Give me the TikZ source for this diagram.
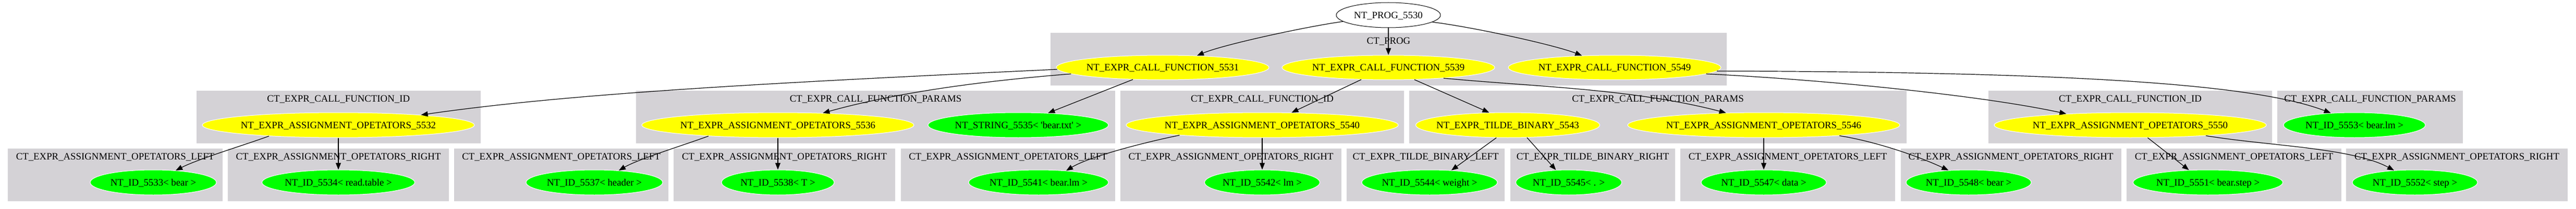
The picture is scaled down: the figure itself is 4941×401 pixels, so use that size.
\documentclass[tikz,border=0pt]{standalone}
\usepackage{fontspec}
\setmainfont{Liberation Serif}[Ligatures=TeXOff]
\usetikzlibrary{shapes.geometric,arrows.meta}
\definecolor{clgray}{RGB}{212,210,214}
\definecolor{ynode}{RGB}{255,255,0}
\definecolor{gnode}{RGB}{0,255,0}
\newcommand{\zb}[1]{\makebox[0pt]{#1}}
\begin{document}
\begin{tikzpicture}[x=1pt,y=-1pt,
  txt/.style={font=\fontsize{18.8}{22}\selectfont, text height=12.4pt, text depth=0pt, inner sep=0pt},
  nd/.style={txt, ellipse, line width=1pt, minimum height=48pt},
  yel/.style={nd, fill=ynode, draw=white},
  grn/.style={nd, fill=gnode, draw=white},
  cl/.style={fill=clgray},
  lab/.style={txt, anchor=center},
  conn/.style={draw=black, line width=1.2pt, -{Triangle[length=13pt,width=10pt]}}
]
\fill[white] (0,0) rectangle (4941,401);
\useasboundingbox (0,0) rectangle (4941,401);

% clusters
\fill[cl] (2015,63) rectangle (3312,164);
\fill[cl] (376.7,174) rectangle (922,275);
\fill[cl] (1220,174) rectangle (2139,275);
\fill[cl] (2149,174) rectangle (2693,275);
\fill[cl] (2703,174) rectangle (3656.7,275);
\fill[cl] (3814,174) rectangle (4358,275);
\fill[cl] (4368,174) rectangle (4724,275);
\fill[cl] (15,285) rectangle (427.3,386);
\fill[cl] (437.3,285) rectangle (861,386);
\fill[cl] (871,285) rectangle (1282,386);
\fill[cl] (1292,285) rectangle (1717,386);
\fill[cl] (1728,285) rectangle (2139,386);
\fill[cl] (2149,285) rectangle (2573,386);
\fill[cl] (2583,285) rectangle (2886,386);
\fill[cl] (2897,285) rectangle (3213,386);
\fill[cl] (3223,285) rectangle (3635,386);
\fill[cl] (3645.7,285) rectangle (4069,386);
\fill[cl] (4079,285) rectangle (4491,386);
\fill[cl] (4500,285) rectangle (4925,386);

% cluster labels
\node[lab] (lprog) at (2663.5,78) {CT\_PROG};
\node[lab] (la) at (649.3,189.3) {CT\_EXPR\_CALL\_FUNCTION\_ID};
\node[lab] (lb) at (1679.5,189.3) {CT\_EXPR\_CALL\_FUNCTION\_PARAMS};
\node[lab] (lc) at (2421,189.3) {CT\_EXPR\_CALL\_FUNCTION\_ID};
\node[lab] (ld) at (3180,189.3) {CT\_EXPR\_CALL\_FUNCTION\_PARAMS};
\node[lab] (le) at (4086,189.3) {CT\_EXPR\_CALL\_FUNCTION\_ID};
\node[lab] (lf) at (4546,189.3) {CT\_EXPR\_CALL\_FUNCTION\_PARAMS};
\node[lab] (l1) at (221,300.5) {CT\_EXPR\_ASSIGNMENT\_OPETATORS\_LEFT};
\node[lab] (l2) at (649,300.5) {CT\_EXPR\_ASSIGNMENT\_OPETATORS\_RIGHT};
\node[lab] (l3) at (1076.5,300.5) {CT\_EXPR\_ASSIGNMENT\_OPETATORS\_LEFT};
\node[lab] (l4) at (1504.5,300.5) {CT\_EXPR\_ASSIGNMENT\_OPETATORS\_RIGHT};
\node[lab] (l5) at (1933.5,300.5) {CT\_EXPR\_ASSIGNMENT\_OPETATORS\_LEFT};
\node[lab] (l6) at (2361,300.5) {CT\_EXPR\_ASSIGNMENT\_OPETATORS\_RIGHT};
\node[lab] (l7) at (2734.5,300.5) {CT\_EXPR\_TILDE\_BINARY\_LEFT};
\node[lab] (l8) at (3055,300.5) {CT\_EXPR\_TILDE\_BINARY\_RIGHT};
\node[lab] (l9) at (3429,300.5) {CT\_EXPR\_ASSIGNMENT\_OPETATORS\_LEFT};
\node[lab] (l10) at (3857,300.5) {CT\_EXPR\_ASSIGNMENT\_OPETATORS\_RIGHT};
\node[lab] (l11) at (4285,300.5) {CT\_EXPR\_ASSIGNMENT\_OPETATORS\_LEFT};
\node[lab] (l12) at (4712.5,300.5) {CT\_EXPR\_ASSIGNMENT\_OPETATORS\_RIGHT};

% nodes
\node[nd, fill=white, draw=black, minimum width=200pt] (root) at (2663,29) {\zb{NT\_PROG\_5530}};
\node[yel, minimum width=408pt, minimum height=47pt] (n5531) at (2230,129.5) {\zb{NT\_EXPR\_CALL\_FUNCTION\_5531}};
\node[yel, minimum width=408pt, minimum height=47pt] (n5539) at (2663,129.5) {\zb{NT\_EXPR\_CALL\_FUNCTION\_5539}};
\node[yel, minimum width=408pt, minimum height=47pt] (n5549) at (3097,129.5) {\zb{NT\_EXPR\_CALL\_FUNCTION\_5549}};

\node[yel, minimum width=522pt] (n5532) at (649,240) {\zb{NT\_EXPR\_ASSIGNMENT\_OPETATORS\_5532}};
\node[yel, minimum width=522pt] (n5536) at (1492,240) {\zb{NT\_EXPR\_ASSIGNMENT\_OPETATORS\_5536}};
\node[grn, minimum width=346pt] (n5535) at (1953,240) {\zb{NT\_STRING\_5535< 'bear.txt' >}};
\node[yel, minimum width=522pt] (n5540) at (2421,240) {\zb{NT\_EXPR\_ASSIGNMENT\_OPETATORS\_5540}};
\node[yel, minimum width=353pt] (n5543) at (2892,240) {\zb{NT\_EXPR\_TILDE\_BINARY\_5543}};
\node[yel, minimum width=522pt] (n5546) at (3383,240) {\zb{NT\_EXPR\_ASSIGNMENT\_OPETATORS\_5546}};
\node[yel, minimum width=522pt] (n5550) at (4086,240) {\zb{NT\_EXPR\_ASSIGNMENT\_OPETATORS\_5550}};
\node[grn, minimum width=272pt] (n5553) at (4516,240) {\zb{NT\_ID\_5553< bear.lm >}};

\node[grn, minimum width=242pt] (n5533) at (294,350) {\zb{NT\_ID\_5533< bear >}};
\node[grn, minimum width=293pt] (n5534) at (649,350) {\zb{NT\_ID\_5534< read.table >}};
\node[grn, minimum width=262pt] (n5537) at (1140,350) {\zb{NT\_ID\_5537< header >}};
\node[grn, minimum width=216pt] (n5538) at (1492,350) {\zb{NT\_ID\_5538< T >}};
\node[grn, minimum width=268pt] (n5541) at (1992,350) {\zb{NT\_ID\_5541< bear.lm >}};
\node[grn, minimum width=221pt] (n5542) at (2421,350) {\zb{NT\_ID\_5542< lm >}};
\node[grn, minimum width=260pt] (n5544) at (2742,350) {\zb{NT\_ID\_5544< weight >}};
\node[grn, minimum width=203pt] (n5545) at (3009,350) {\zb{NT\_ID\_5545< . >}};
\node[grn, minimum width=240pt] (n5547) at (3383,350) {\zb{NT\_ID\_5547< data >}};
\node[grn, minimum width=240pt] (n5548) at (3776,350) {\zb{NT\_ID\_5548< bear >}};
\node[grn, minimum width=287pt] (n5551) at (4235,350) {\zb{NT\_ID\_5551< bear.step >}};
\node[grn, minimum width=240pt] (n5552) at (4632,350) {\zb{NT\_ID\_5552< step >}};

% edges
\draw[conn] (root.188.3) .. controls (2500,52) and (2345,86) .. (n5531.19.1);
\draw[conn] (root) -- (n5539);
\draw[conn] (root.351.7) .. controls (2826,52) and (2981,86) .. (n5549.160.9);
\draw[conn] (n5531.181.6) .. controls (1500,158) and (1100,178) .. (n5532.7.6);
\draw[conn] (n5531.184) .. controls (1850,158) and (1700,183) .. (n5536.15.9);
\draw[conn] (n5531.202.1) -- (n5535.22.7);
\draw[conn] (n5539.204.9) -- (n5540.23);
\draw[conn] (n5539.335.9) -- (n5543.146.3);
\draw[conn] (n5539.349.8) .. controls (2950,167) and (3130,170) .. (n5546.162.7);
\draw[conn] (n5549.356.3) .. controls (3500,153) and (3800,183) .. (n5550.170.7);
\draw[conn] (n5549.358.9) .. controls (4000,138) and (4330,163) .. (n5553.153.6);
\draw[conn] (n5532.189.5) .. controls (470,278) and (380,305) .. (n5533.28.1);
\draw[conn] (n5532) -- (n5534);
\draw[conn] (n5536.189.5) .. controls (1313,278) and (1225,305) .. (n5537.26.3);
\draw[conn] (n5536) -- (n5538);
\draw[conn] (n5540.187.2) .. controls (2200,272) and (2090,300) .. (n5541.23.9);
\draw[conn] (n5540) -- (n5542);
\draw[conn] (n5543.228.8) -- (n5544.29.1);
\draw[conn] (n5543.327) -- (n5545.136.7);
\draw[conn] (n5546) -- (n5547);
\draw[conn] (n5546.352.6) .. controls (3600,272) and (3680,300) .. (n5548.149.1);
\draw[conn] (n5550.324) -- (n5551.147.4);
\draw[conn] (n5550.352.4) .. controls (4350,280) and (4510,283) .. (n5552.150.9);
\end{tikzpicture}
\end{document}
